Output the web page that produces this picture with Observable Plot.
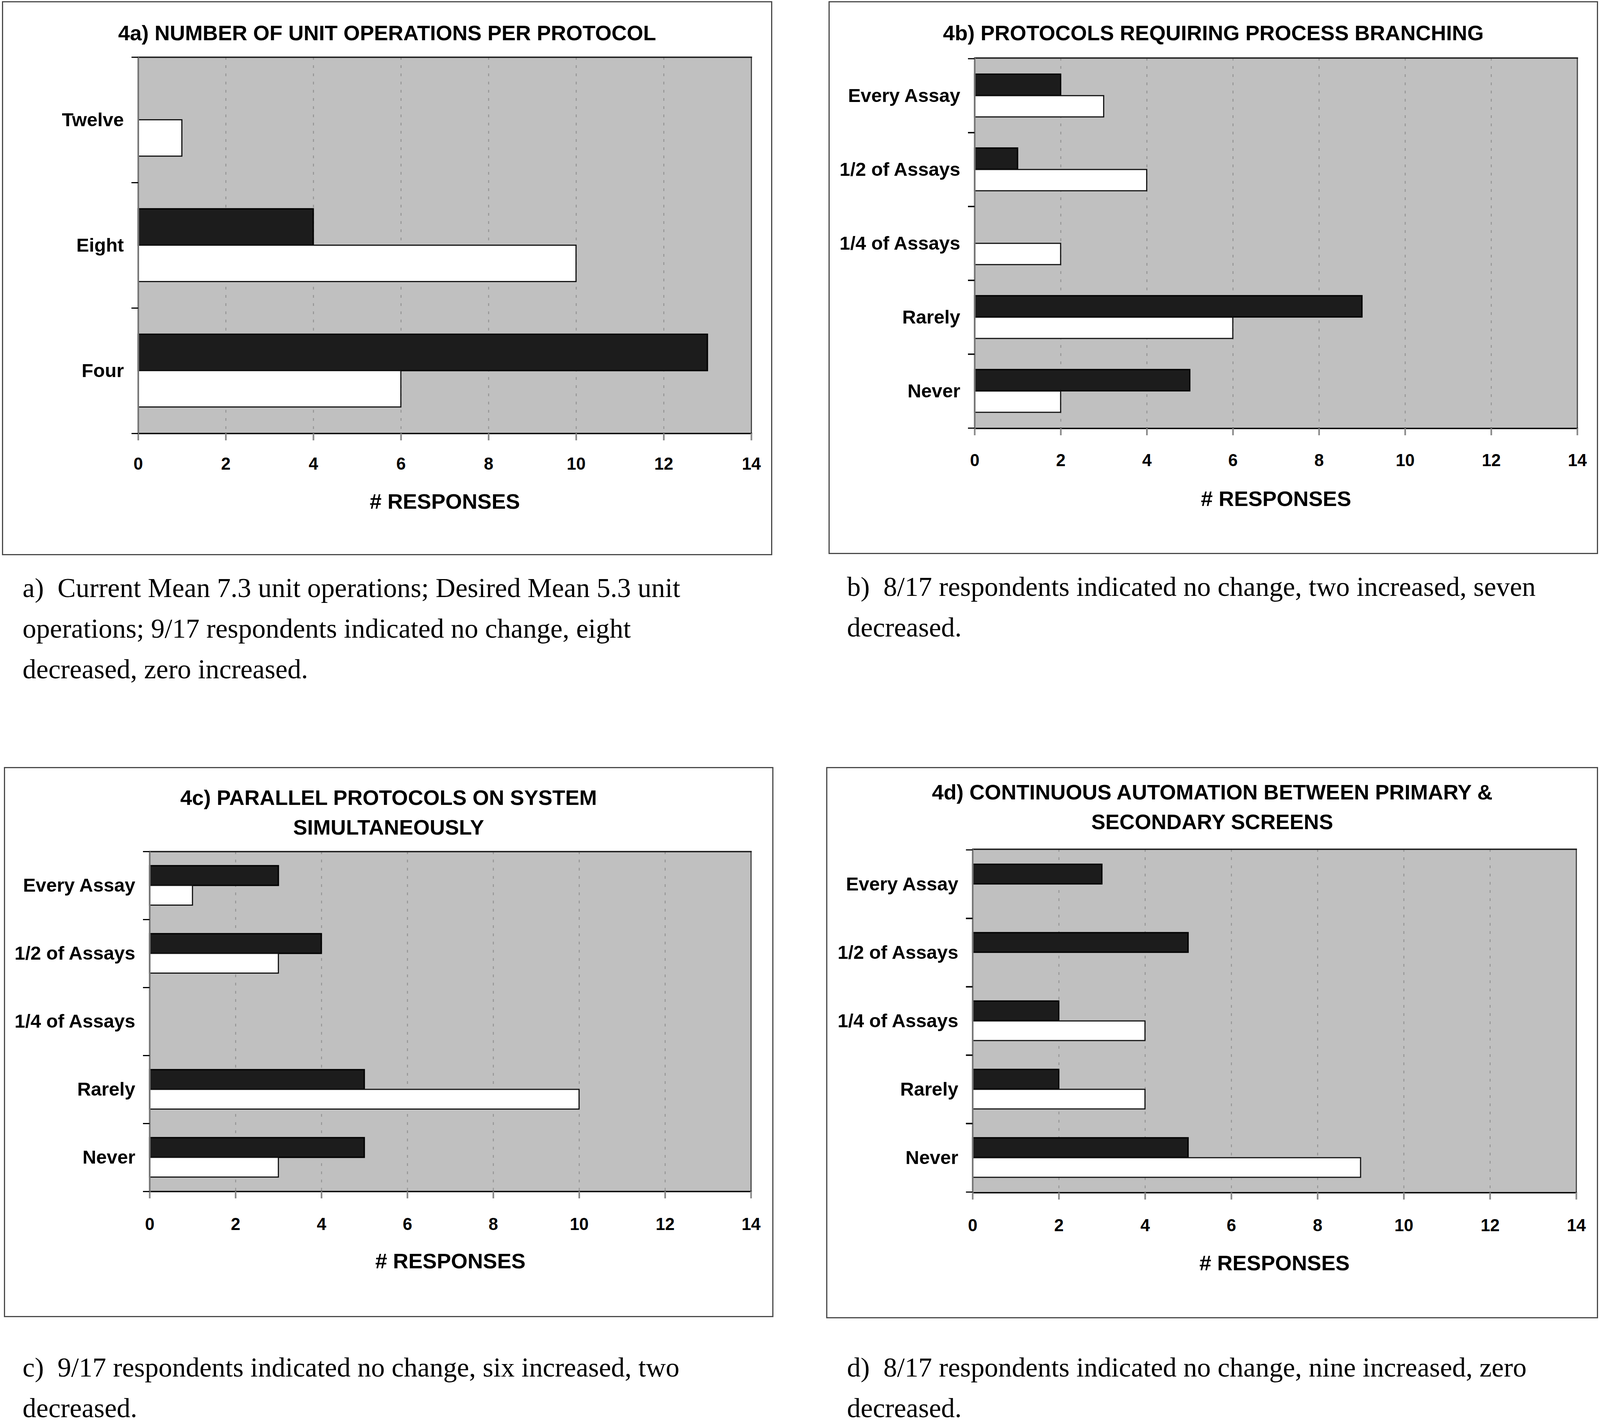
<!DOCTYPE html>
<html><head><meta charset="utf-8">
<script src="https://cdn.jsdelivr.net/npm/d3@7"></script>
<script src="https://cdn.jsdelivr.net/npm/@observablehq/plot@0.6"></script>
<style>
html,body{margin:0;padding:0;background:#fff;overflow:hidden;}
#page{position:relative;background:#fff;font-family:"Liberation Sans",Arial,sans-serif;}
.box{position:absolute;border-style:solid;border-color:#4a4a4a;box-sizing:border-box;}
.title{position:absolute;text-align:center;font-weight:bold;color:#000;white-space:nowrap;}
.chart{position:absolute;}
.chart svg{overflow:visible;}
.cap{position:absolute;font-family:"Liberation Serif","Times New Roman",serif;color:#000;white-space:pre;}
</style></head><body>
<div id="page"></div>
<script>
// ---- data ----
const categoriesA = ["Twelve", "Eight", "Four"];
const desiredA = [0, 4, 13];
const currentA = [1, 10, 6];

const categoriesB = ["Every Assay", "1/2 of Assays", "1/4 of Assays", "Rarely", "Never"];
const desiredB = [2, 1, 0, 9, 5];
const currentB = [3, 4, 2, 6, 2];

const categoriesC = ["Every Assay", "1/2 of Assays", "1/4 of Assays", "Rarely", "Never"];
const desiredC = [3, 4, 0, 5, 5];
const currentC = [1, 3, 0, 10, 3];

const categoriesD = ["Every Assay", "1/2 of Assays", "1/4 of Assays", "Rarely", "Never"];
const desiredD = [3, 5, 2, 2, 5];
const currentD = [0, 0, 4, 4, 9];

const xTicks = [0, 2, 4, 6, 8, 10, 12, 14];
const gridTicks = [2, 4, 6, 8, 10, 12];
const xLabel = "# RESPONSES";

const titleA = ["4a) NUMBER OF UNIT OPERATIONS PER PROTOCOL"];
const titleB = ["4b) PROTOCOLS REQUIRING PROCESS BRANCHING"];
const titleC = ["4c) PARALLEL PROTOCOLS ON SYSTEM", "SIMULTANEOUSLY"];
const titleD = ["4d) CONTINUOUS AUTOMATION BETWEEN PRIMARY &", "SECONDARY SCREENS"];

const captionA = ["a)  Current Mean 7.3 unit operations; Desired Mean 5.3 unit", "operations; 9/17 respondents indicated no change, eight", "decreased, zero increased."];
const captionB = ["b)  8/17 respondents indicated no change, two increased, seven", "decreased."];
const captionC = ["c)  9/17 respondents indicated no change, six increased, two", "decreased."];
const captionD = ["d)  8/17 respondents indicated no change, nine increased, zero", "decreased."];

// ---- layout (reference pixels, scaled to the viewport per axis) ----
const PAGE_W = 4885, PAGE_H = 3647;
const page = document.getElementById("page");
const vw = window.innerWidth || PAGE_W, vh = window.innerHeight || PAGE_H;
const sx = vw / PAGE_W, sy = vh / PAGE_H;
page.style.width = vw + "px";
page.style.height = vh + "px";
const X = v => v * sx, Y = v => v * sy, F = v => v * sx;

const panels = [
  {cats: categoriesA, dark: desiredA, white: currentA, title: titleA, caption: captionA,
   box: [6, 3, 2358, 1421], plot: [422, 2294, 146, 1109], titleY: 84, tickY: 1186, labelY: 1284, capX: 69, capY: 1505},
  {cats: categoriesB, dark: desiredB, white: currentB, title: titleB, caption: captionB,
   box: [2530, 3, 4879, 1418], plot: [2975, 4815, 148, 1096], titleY: 84, tickY: 1177, labelY: 1277, capX: 2586, capY: 1502},
  {cats: categoriesC, dark: desiredC, white: currentC, title: titleC, caption: captionC,
   box: [12, 1963, 2361, 3371], plot: [457, 2293, 2179, 3049], titleY: 2041, tickY: 3132, labelY: 3228, capX: 69, capY: 3500},
  {cats: categoriesD, dark: desiredD, white: currentD, title: titleD, caption: captionD,
   box: [2523, 1963, 4879, 3374], plot: [2969, 4812, 2173, 3052], titleY: 2027, tickY: 3135, labelY: 3233, capX: 2586, capY: 3500}
];

function addDiv(cls, css, html) {
  const d = document.createElement("div");
  d.className = cls;
  Object.assign(d.style, css);
  if (html != null) d.innerHTML = html;
  page.appendChild(d);
  return d;
}

for (const p of panels) {
  const [L, T, R, B] = p.box;
  const [px0, px1, py0, py1] = p.plot;
  const bwid = 4;
  addDiv("box", {left: X(L) + "px", top: Y(T) + "px", width: X(R - L) + "px", height: Y(B - T) + "px", borderWidth: F(bwid) + "px"});
  const tLH = 76;
  addDiv("title", {left: X(L) + "px", width: X(R - L) + "px", top: Y(p.titleY - tLH / 2) + "px",
    fontSize: F(64.5) + "px", lineHeight: Y(tLH) + "px"}, p.title.join("<br>"));

  const innerL = X(L + bwid), innerW = X(R - L - 2 * bwid);
  const mt = Y(24), mb = Y(260);
  const plotH = Y(py1 - py0);
  const bw = plotH / p.cats.length;
  const rows = p.cats.flatMap((c, i) => [
    {cat: c, series: "Desired", value: p.dark[i]},
    {cat: c, series: "Current", value: p.white[i]}
  ]).filter(d => d.value > 0);
  const tickLen = Y(18);
  const fsTick = F(52);
  const tickPad = Y(p.tickY - py1) - tickLen - fsTick * 0.35;

  const chart = Plot.plot({
    width: innerW,
    height: mt + plotH + mb,
    marginLeft: X(px0) - innerL,
    marginRight: innerL + innerW - X(px1),
    marginTop: mt,
    marginBottom: mb,
    style: {fontFamily: "Liberation Sans, Arial, sans-serif", fontWeight: "bold", color: "#000", background: "transparent", overflow: "visible"},
    x: {domain: [0, 14], label: null},
    y: {domain: p.cats, padding: 0, label: null},
    marks: [
      Plot.frame({fill: "#c0c0c0", stroke: null}),
      Plot.ruleX(gridTicks, {stroke: "#949494", strokeWidth: F(3), strokeDasharray: `${Y(7)},${Y(14)}`}),
      Plot.frame({anchor: "right", stroke: "#444", strokeWidth: F(3.5)}),
      Plot.barX(rows.filter(d => d.series === "Desired"), {y: "cat", x: "value", fill: "#1c1c1c", stroke: "#000", strokeWidth: F(4), insetTop: bw * 0.21, insetBottom: bw * 0.5}),
      Plot.barX(rows.filter(d => d.series === "Current"), {y: "cat", x: "value", fill: "#fff", stroke: "#111", strokeWidth: F(3.5), insetTop: bw * 0.5, insetBottom: bw * 0.21}),
      Plot.frame({anchor: "top", stroke: "#1a1a1a", strokeWidth: F(4)}),
      Plot.frame({anchor: "bottom", stroke: "#000", strokeWidth: F(4)}),
      Plot.ruleX([0], {stroke: "#777", strokeWidth: F(5)}),
      Plot.axisX({ticks: xTicks, tickSize: tickLen, tickPadding: tickPad, fontSize: fsTick, fontWeight: "bold", stroke: "#8a8a8a", strokeWidth: F(5), fill: "#000", label: null}),
      Plot.axisY({tickSize: 0, tickPadding: X(44), fontSize: F(58), fontWeight: "bold", label: null}),
      Plot.axisY({tickSize: X(20), tickFormat: () => "", dy: -bw / 2, stroke: "#000", strokeWidth: F(3.5), label: null}),
      Plot.axisY({tickSize: X(20), tickFormat: () => "", dy: bw / 2, stroke: "#000", strokeWidth: F(3.5), label: null}),
      Plot.text([xLabel], {frameAnchor: "bottom", dy: Y(p.labelY - py1), lineAnchor: "middle", fontSize: F(65), fontWeight: "bold", fill: "#000"})
    ]
  });
  const holder = addDiv("chart", {left: innerL + "px", top: (Y(py0) - mt) + "px"});
  holder.appendChild(chart);

  const cLH = 104;
  addDiv("cap", {left: X(p.capX) + "px", top: Y(p.capY - cLH / 2) + "px", fontSize: F(83.5) + "px", lineHeight: Y(cLH) + "px"}, p.caption.join("\n"));
}
</script>
</body></html>
